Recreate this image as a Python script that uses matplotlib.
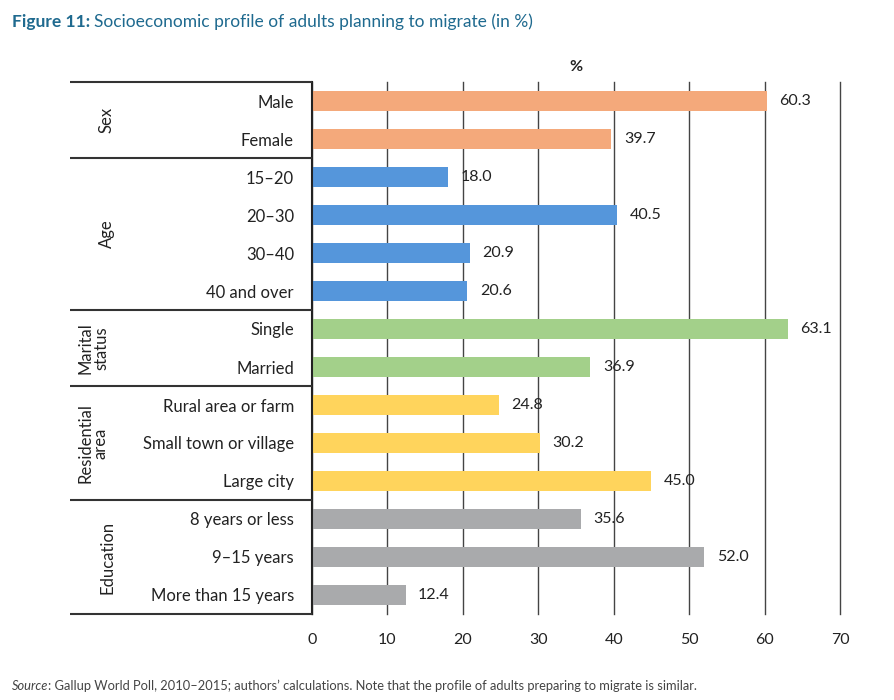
import matplotlib
matplotlib.use("Agg")
import matplotlib.pyplot as plt
import matplotlib.transforms as mtransforms
from matplotlib.lines import Line2D

plt.rcParams["font.family"] = ["Lato", "DejaVu Sans"]

# data
groups = ["Sex", "Age", "Marital\nstatus", "Residential\narea", "Education"]
categories = [
    ["Male", "Female"],
    ["15\u201320", "20\u201330", "30\u201340", "40 and over"],
    ["Single", "Married"],
    ["Rural area or farm", "Small town or village", "Large city"],
    ["8 years or less", "9\u201315 years", "More than 15 years"],
]
values = [
    [60.3, 39.7],
    [18.0, 40.5, 20.9, 20.6],
    [63.1, 36.9],
    [24.8, 30.2, 45.0],
    [35.6, 52.0, 12.4],
]
group_colors = ["#F4A97B", "#5596DB", "#A3D08A", "#FFD45C", "#A9AAAC"]
x_ticks = [0, 10, 20, 30, 40, 50, 60, 70]

W, H = 894, 700
fig = plt.figure(figsize=(W / 100, H / 100), dpi=100)
ax = fig.add_axes([312 / W, 1 - 614 / H, 528 / W, 532 / H])

labels, vals, cols, bounds = [], [], [], [-0.5]
for g, cats, vs, c in zip(groups, categories, values, group_colors):
    labels += cats
    vals += vs
    cols += [c] * len(cats)
    bounds.append(len(labels) - 0.5)

ypos = list(range(len(labels)))
bars = ax.barh(ypos, vals, height=0.54, color=cols, zorder=3)
ax.bar_label(bars, labels=[f"{v:.1f}" for v in vals], padding=9,
             fontsize=11.5, color="#222222", zorder=4)

ax.set_xlim(0, 70)
ax.set_ylim(bounds[-1], bounds[0])
ax.set_xticks(x_ticks)
ax.set_xticklabels([str(t) for t in x_ticks], fontsize=11.5, color="#222222")
ax.set_yticks(ypos)
ax.set_yticklabels(labels, fontsize=12, color="#222222")
ax.tick_params(axis="both", length=0)
ax.tick_params(axis="y", pad=13)
ax.tick_params(axis="x", pad=14)
ax.grid(axis="x", color="#444444", linewidth=1, zorder=0)
for gl in ax.get_xgridlines():
    gl.set_clip_on(False)
for s in ["top", "right", "bottom"]:
    ax.spines[s].set_visible(False)
ax.spines["left"].set_linewidth(1.5)
ax.spines["left"].set_color("#222222")
ax.spines["left"].set_zorder(5)
ax.set_title("%", fontsize=11.5, fontweight="bold", pad=8, color="#222222")

# table of group labels at the left, drawn in figure coordinates
to_fig = ax.transData + fig.transFigure.inverted()
x_left = 70 / W
x_right = 312 / W
for b in bounds:
    yf = to_fig.transform((0, b))[1]
    fig.add_artist(Line2D([x_left, x_right], [yf, yf], color="#333333",
                          linewidth=1.5, solid_capstyle="butt"))

trans = mtransforms.blended_transform_factory(ax.transAxes, ax.transData)
for i, g in enumerate(groups):
    mid = (bounds[i] + bounds[i + 1]) / 2
    xg = 93 if "\n" in g else 107
    ax.text((xg - 312) / 528, mid, g, transform=trans, rotation=90,
            ha="center", va="center", fontsize=12, color="#222222",
            linespacing=1.0)

renderer = fig.canvas.get_renderer()

# title with bold prefix
t1 = fig.text(12 / W, 1 - 22 / H, "Figure 11:", fontsize=12.5,
              fontweight="bold", color="#1F6A8F", va="center")
bb = t1.get_window_extent(renderer=renderer)
fig.text(bb.x1 / W + 4 / W, 1 - 22 / H,
         "Socioeconomic profile of adults planning to migrate (in %)",
         fontsize=12.5, color="#1F6A8F", va="center")

# source note
s1 = fig.text(12 / W, 1 - 686 / H, "Source", fontsize=9.3, style="italic",
              color="#444444", va="center")
bb = s1.get_window_extent(renderer=renderer)
fig.text(bb.x1 / W, 1 - 686 / H,
         ": Gallup World Poll, 2010\u20132015; authors\u2019 calculations. "
         "Note that the profile of adults preparing to migrate is similar.",
         fontsize=9.3, color="#444444", va="center")

fig.savefig("out.png", dpi=100)
